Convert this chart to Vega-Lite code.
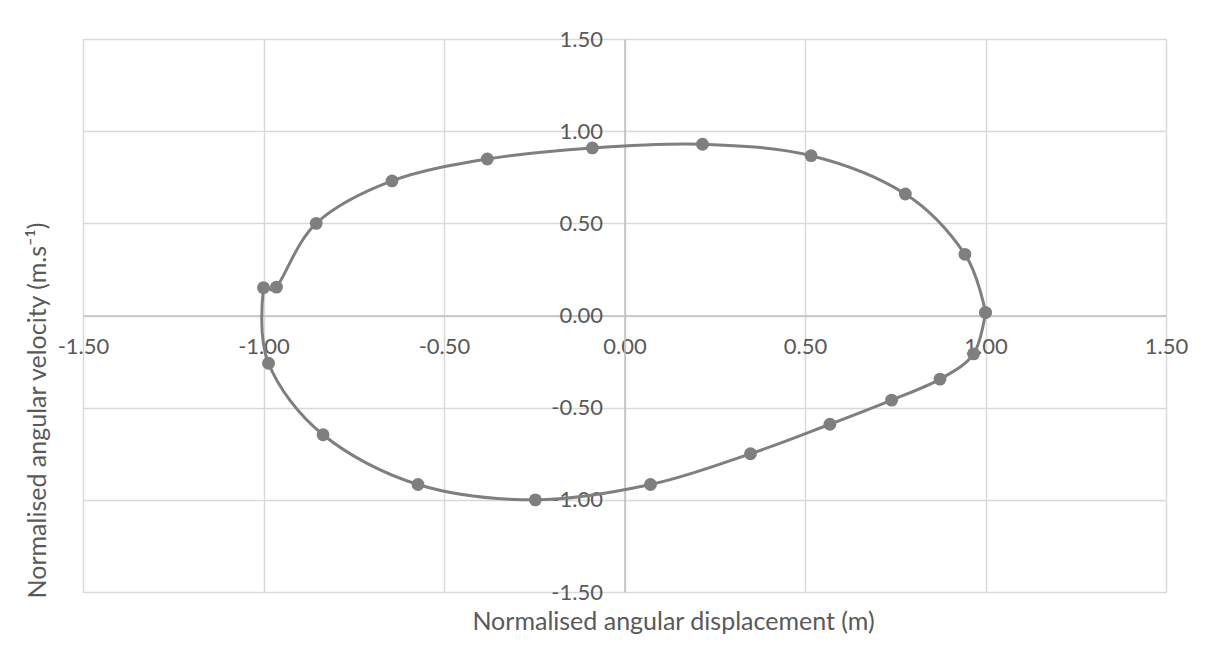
{
  "$schema": "https://vega.github.io/schema/vega-lite/v6.json",
  "autosize": {"type": "none"},
  "padding": {"left": 83, "top": 39, "right": 44, "bottom": 60},
  "width": 1083,
  "height": 553,
  "background": "white",
  "config": {
    "font": "Lato",
    "view": {"stroke": null},
    "locale": {"number": {"decimal": ".", "thousands": ",", "grouping": [3], "currency": ["$", ""], "minus": "-"}}
  },
  "data": {
    "values": [
      {"i": 1, "x": 1.0, "y": 0.016},
      {"i": 2, "x": 0.967, "y": -0.208},
      {"i": 3, "x": 0.874, "y": -0.345},
      {"i": 4, "x": 0.74, "y": -0.459},
      {"i": 5, "x": 0.569, "y": -0.59},
      {"i": 6, "x": 0.349, "y": -0.75},
      {"i": 7, "x": 0.072, "y": -0.917},
      {"i": 8, "x": -0.247, "y": -1.0},
      {"i": 9, "x": -0.572, "y": -0.917},
      {"i": 10, "x": -0.835, "y": -0.647},
      {"i": 11, "x": -0.986, "y": -0.259},
      {"i": 12, "x": -1.0, "y": 0.151},
      {"i": 13, "x": -0.964, "y": 0.154},
      {"i": 14, "x": -0.854, "y": 0.5},
      {"i": 15, "x": -0.644, "y": 0.73},
      {"i": 16, "x": -0.38, "y": 0.849},
      {"i": 17, "x": -0.089, "y": 0.909},
      {"i": 18, "x": 0.216, "y": 0.929},
      {"i": 19, "x": 0.517, "y": 0.867},
      {"i": 20, "x": 0.778, "y": 0.659},
      {"i": 21, "x": 0.943, "y": 0.332},
      {"i": 22, "x": 1.0, "y": 0.016}
    ]
  },
  "encoding": {
    "x": {
      "field": "x",
      "type": "quantitative",
      "scale": {"domain": [-1.5, 1.5], "nice": false, "zero": false},
      "axis": {
        "orient": "bottom",
        "offset": -276.5,
        "values": [-1.5, -1, -0.5, 0, 0.5, 1, 1.5],
        "format": ".2f",
        "title": "Normalised angular displacement (m)",
        "titleFont": "Lato",
        "titleFontSize": 25,
        "titleFontWeight": "normal",
        "titleColor": "#595959",
        "titleX": 590,
        "titleY": 313.5,
        "titleAlign": "center",
        "titleBaseline": "alphabetic",
        "titleAnchor": null,
        "labelFont": "Lato",
        "labelFontSize": 22,
        "labelColor": "#595959",
        "labelBaseline": "alphabetic",
        "labelPadding": 38,
        "labelFlush": false,
        "labelOverlap": false,
        "ticks": false,
        "tickSize": 0,
        "domainColor": "#bfbfbf",
        "domainWidth": 1.5,
        "grid": true,
        "gridColor": "#d9d9d9",
        "gridWidth": 1.5
      }
    },
    "y": {
      "field": "y",
      "type": "quantitative",
      "scale": {"domain": [-1.5, 1.5], "nice": false, "zero": false},
      "axis": {
        "orient": "left",
        "offset": -541.5,
        "values": [-1.5, -1, -0.5, 0, 0.5, 1, 1.5],
        "format": ".2f",
        "title": "Normalised angular velocity (m.s⁻¹)",
        "titleFont": "Lato",
        "titleFontSize": 25,
        "titleFontWeight": "normal",
        "titleColor": "#595959",
        "titleAngle": 270,
        "titleX": -579.5,
        "titleY": 371,
        "titleAlign": "center",
        "titleBaseline": "alphabetic",
        "titleAnchor": null,
        "labelFont": "Lato",
        "labelFontSize": 22,
        "labelColor": "#595959",
        "labelBaseline": "middle",
        "labelPadding": 22,
        "labelFlush": false,
        "labelOverlap": false,
        "ticks": false,
        "tickSize": 0,
        "domainColor": "#bfbfbf",
        "domainWidth": 1.5,
        "grid": true,
        "gridColor": "#d9d9d9",
        "gridWidth": 1.5
      }
    }
  },
  "layer": [
    {
      "mark": {"type": "line", "interpolate": "cardinal", "color": "#7f7f7f", "strokeWidth": 3, "clip": false},
      "encoding": {"order": {"field": "i", "type": "quantitative"}}
    },
    {
      "mark": {"type": "circle", "size": 165, "color": "#7f7f7f", "opacity": 1}
    }
  ]
}
